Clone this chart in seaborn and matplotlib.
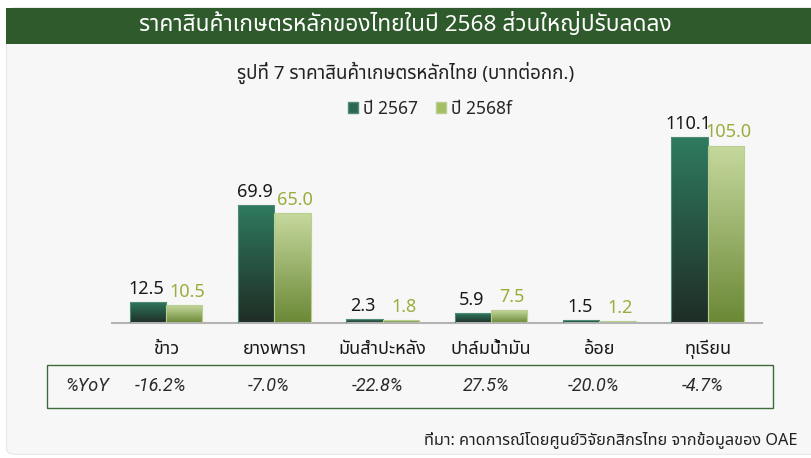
import numpy as np
import pandas as pd
import matplotlib
matplotlib.use('Agg')
import matplotlib.pyplot as plt
import seaborn as sns
from matplotlib.colors import LinearSegmentedColormap
from matplotlib.patches import FancyBboxPatch, Rectangle, Patch
from matplotlib.transforms import blended_transform_factory

# ข้อมูล
categories = ['ข้าว', 'ยางพารา', 'มันสำปะหลัง', 'ปาล์มน้ำมัน', 'อ้อย', 'ทุเรียน']
price_2567 = [12.5, 69.9, 2.3, 5.9, 1.5, 110.1]
price_2568f = [10.5, 65.0, 1.8, 7.5, 1.2, 105.0]
yoy = ['-16.2%', '-7.0%', '-22.8%', '27.5%', '-20.0%', '-4.7%']
series = ['ปี 2567', 'ปี 2568f']

df = pd.DataFrame({
    'สินค้า': categories * 2,
    'ราคา': price_2567 + price_2568f,
    'ปี': [series[0]] * 6 + [series[1]] * 6,
})

sns.set_theme(style='white')
plt.rcParams['font.family'] = ['Noto Sans Thai', 'DejaVu Sans']

fig = plt.figure(figsize=(8.11, 4.58), dpi=100)
fig.patch.set_facecolor('white')

# พื้นหลังกรอบ + แถบหัวเรื่อง
fig.patches.append(FancyBboxPatch((0.008, 0.008), 1.1, 0.975, boxstyle='round,pad=0,rounding_size=0.012',
                                  transform=fig.transFigure, facecolor='#f7f7f7', edgecolor='#e6e6e6',
                                  lw=0.8, zorder=-5))
fig.patches.append(Rectangle((0.008, 0.903), 1.0, 0.08, transform=fig.transFigure,
                             facecolor='#2f5a2c', edgecolor='none', zorder=-4))
fig.text(0.5, 0.947, 'ราคาสินค้าเกษตรหลักของไทยในปี 2568 ส่วนใหญ่ปรับลดลง', color='white',
         ha='center', va='center', fontsize=16.3)
fig.text(0.5, 0.842, 'รูปที่ 7 ราคาสินค้าเกษตรหลักไทย (บาทต่อกก.)', color='#222222',
         ha='center', va='center', fontsize=13.5)

ax = fig.add_axes([0.138, 0.295, 0.8015, 0.4426])
ax.set_facecolor('none')
palette = {series[0]: '#2b6b52', series[1]: '#a9c46e'}
sns.barplot(data=df, x='สินค้า', y='ราคา', hue='ปี', palette=palette, width=0.67,
            ax=ax, legend=False, saturation=1)

grads = {0: ('#1f2d25', '#2f7b5f'), 1: ('#6b8836', '#c6d99e')}
edges = {0: '#4f8c76', 1: '#b9cf8e'}
label_cols = {0: '#1a1a1a', 1: '#9aad3c'}
label_dx = {0: -1, 1: 2}
vals = [price_2567, price_2568f]
for s, cont in enumerate(ax.containers):
    for i, bar in enumerate(cont):
        x0, w, h = bar.get_x(), bar.get_width(), bar.get_height()
        cmap = LinearSegmentedColormap.from_list('g%d' % s, list(grads[s]))
        im = ax.imshow(np.linspace(0, 1, 256).reshape(-1, 1), extent=[x0, x0 + w, 0, h],
                       origin='lower', aspect='auto', cmap=cmap, zorder=2)
        im.set_clip_path(bar)
        bar.set_facecolor('none')
        bar.set_edgecolor(edges[s])
        bar.set_linewidth(0.8)
        bar.set_zorder(3)
        ax.annotate(f'{vals[s][i]:.1f}', (x0 + w / 2, h), xytext=(label_dx[s], 3), textcoords='offset points',
                    ha='center', va='bottom', fontsize=13, color=label_cols[s])

ax.set_xlim(-0.5, 5.5)
ax.set_ylim(0, 120)
ax.set_xlabel('')
ax.set_ylabel('')
ax.set_yticks([])
ax.tick_params(axis='x', length=0, pad=12, labelsize=13, labelcolor='#1a1a1a')
for sp in ['top', 'left', 'right']:
    ax.spines[sp].set_visible(False)
ax.spines['bottom'].set_color('#b3b3b3')
ax.spines['bottom'].set_linewidth(1.5)

# คำอธิบาย
handles = [Patch(facecolor='#2a6650', edgecolor='#4f8c76'), Patch(facecolor='#a3bf66', edgecolor='#b9cf8e')]
fig.legend(handles, series, loc='center', bbox_to_anchor=(0.53, 0.762), ncol=2, frameon=False,
           fontsize=12.5, handlelength=0.6, handleheight=0.6, handletextpad=0.3, columnspacing=1.0)

# กล่อง %YoY
fig.patches.append(Rectangle((0.058, 0.11), 0.895, 0.092, transform=fig.transFigure,
                             facecolor='none', edgecolor='#3d6b3a', lw=1.0, zorder=2))
yoy_font = dict(family=['Roboto', 'DejaVu Sans'], style='italic', weight='normal', fontsize=13, color='#2a2a2a')
fig.text(0.08, 0.157, '%YoY', ha='left', va='center', **yoy_font)
tr = blended_transform_factory(ax.transData, fig.transFigure)
for i, v in enumerate(yoy):
    fig.text(i - 0.05, 0.157, v, transform=tr, ha='center', va='center', **yoy_font)

fig.text(0.983, 0.04, 'ที่มา: คาดการณ์โดยศูนย์วิจัยกสิกรไทย จากข้อมูลของ OAE', ha='right', va='center',
         fontsize=11.7, color='#222222')

fig.savefig('out.png', dpi=100, facecolor=fig.get_facecolor())
